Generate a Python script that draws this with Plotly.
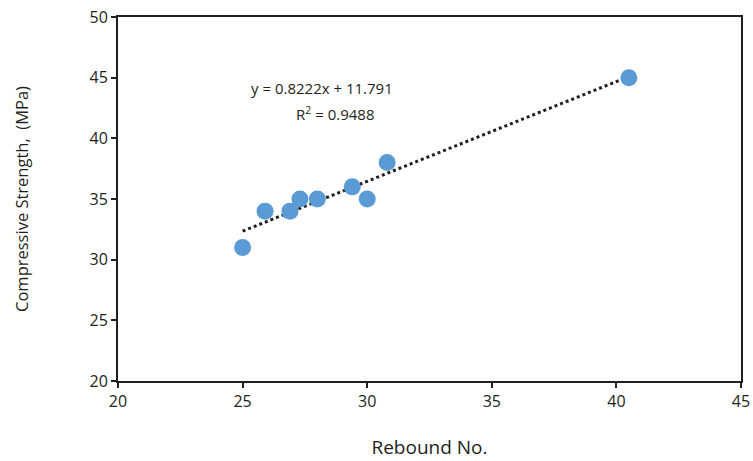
import plotly.graph_objects as go

rebound = [25.0, 25.9, 26.9, 27.3, 28.0, 29.4, 30.0, 30.8, 40.5]
strength = [31, 34, 34, 35, 35, 36, 35, 38, 45]
slope = 0.8222
intercept = 11.791
trend_x = [min(rebound), max(rebound)]
trend_y = [slope * v + intercept for v in trend_x]

fig = go.Figure()
fig.add_trace(go.Scatter(x=trend_x, y=trend_y, mode="lines",
                         line=dict(color="#231f20", width=3, dash="dot"),
                         showlegend=False, hoverinfo="skip"))
fig.add_trace(go.Scatter(x=rebound, y=strength, mode="markers",
                         marker=dict(color="#5b9bd5", size=17, line=dict(width=0)),
                         showlegend=False))

fig.add_annotation(x=0.327, y=0.805, xref="paper", yref="paper",
                   text="y = 0.8222x + 11.791", showarrow=False,
                   font=dict(size=15, color="#231f20"), xanchor="center", yanchor="middle")
fig.add_annotation(x=0.348, y=0.736, xref="paper", yref="paper",
                   text="R<sup>2</sup> = 0.9488", showarrow=False,
                   font=dict(size=15, color="#231f20"), xanchor="center", yanchor="middle")

axis_common = dict(showgrid=False, zeroline=False, showline=True, linewidth=2,
                   linecolor="#231f20", mirror=True, ticks="outside", ticklen=5,
                   tickwidth=2, tickcolor="#231f20", automargin=False,
                   ticklabeloverflow="allow",
                   tickfont=dict(size=16, color="#231f20"))

fig.update_xaxes(range=[20, 45], dtick=5,
                 title=dict(text="Rebound No.", font=dict(size=19, color="#231f20"), standoff=29),
                 **axis_common)
fig.update_yaxes(range=[20, 50], dtick=5,
                 title=dict(text="Compressive Strength,  (MPa)", font=dict(size=16.5, color="#231f20"), standoff=57),
                 **axis_common)

fig.update_layout(width=753, height=461, plot_bgcolor="white", paper_bgcolor="white",
                  margin=dict(l=118, r=12, t=17, b=80),
                  font=dict(family="Open Sans", color="#231f20"))

fig.write_html("out.html", config={"displayModeBar": False},
               post_script="document.body.style.margin='0px';")
